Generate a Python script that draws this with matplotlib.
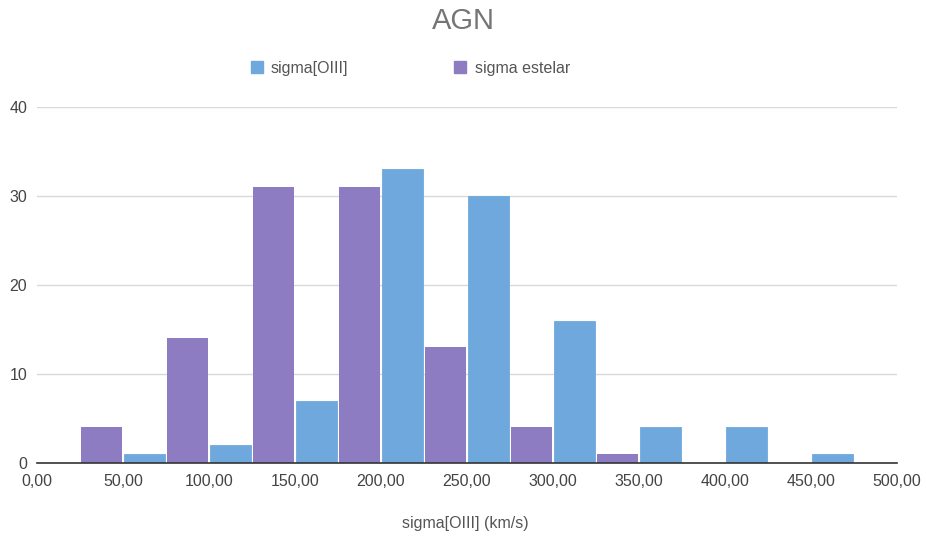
import numpy as np
import matplotlib.pyplot as plt
from matplotlib.lines import Line2D

# Histogram counts, buckets of 50 km/s
bin_edges = [0, 50, 100, 150, 200, 250, 300, 350, 400, 450, 500]
oiii_counts = [0, 1, 2, 7, 33, 30, 16, 4, 4, 1]
stellar_counts = [4, 14, 31, 31, 13, 4, 1, 0, 0, 0]
series_names = ["sigma[OIII]", "sigma estelar"]
x_ticks = [0, 50, 100, 150, 200, 250, 300, 350, 400, 450, 500]
y_ticks = [0, 10, 20, 30, 40]

blue = "#6fa8dc"
purple = "#8e7cc3"

plt.rcParams['font.family'] = ['Liberation Sans', 'DejaVu Sans']

fig = plt.figure(figsize=(9.26, 5.38), dpi=100)
ax = fig.add_axes([0.040, 0.1394, 0.9287, 0.6617])

left = np.array(bin_edges[:-1], dtype=float)
half = 25
w = half - 1.0
ax.bar(left + half / 2, oiii_counts, width=w, color=blue,
       edgecolor=blue, linewidth=0.6, zorder=3)
ax.bar(left + half + half / 2, stellar_counts, width=w, color=purple,
       linewidth=0, zorder=3)

ax.set_xlim(0, 500)
ax.set_ylim(0, 40)
ax.set_xticks(x_ticks)
ax.set_xticklabels([f"{v:.2f}".replace(".", ",") for v in x_ticks])
ax.set_yticks(y_ticks)
ax.tick_params(axis='both', length=0, labelsize=11.5, colors="#444444")
ax.tick_params(axis='x', pad=8)
ax.tick_params(axis='y', pad=7)
ax.grid(axis='y', color="#d9d9d9", linewidth=1, zorder=0)
for s in ['top', 'right', 'left']:
    ax.spines[s].set_visible(False)
ax.spines['bottom'].set_color("#333333")
ax.spines['bottom'].set_linewidth(1.2)
ax.spines['bottom'].set_zorder(4)

fig.text(0.5, 0.961, "AGN", ha='center', va='center', fontsize=21, color="#757575")
fig.text(0.503, 0.027, "sigma[OIII] (km/s)", ha='center', va='center',
         fontsize=11.5, color="#555555")

handles = [Line2D([], [], marker='s', linestyle='none', markersize=8,
                  markerfacecolor=c, markeredgecolor=c) for c in (blue, purple)]
fig.legend(handles, series_names, loc='center', bbox_to_anchor=(0.442, 0.873),
           ncol=2, frameon=False, labelcolor="#555555",
           columnspacing=6.5, handletextpad=0.4, handlelength=1.0,
           prop={'size': 11.5})

fig.savefig("out.png", dpi=100)
